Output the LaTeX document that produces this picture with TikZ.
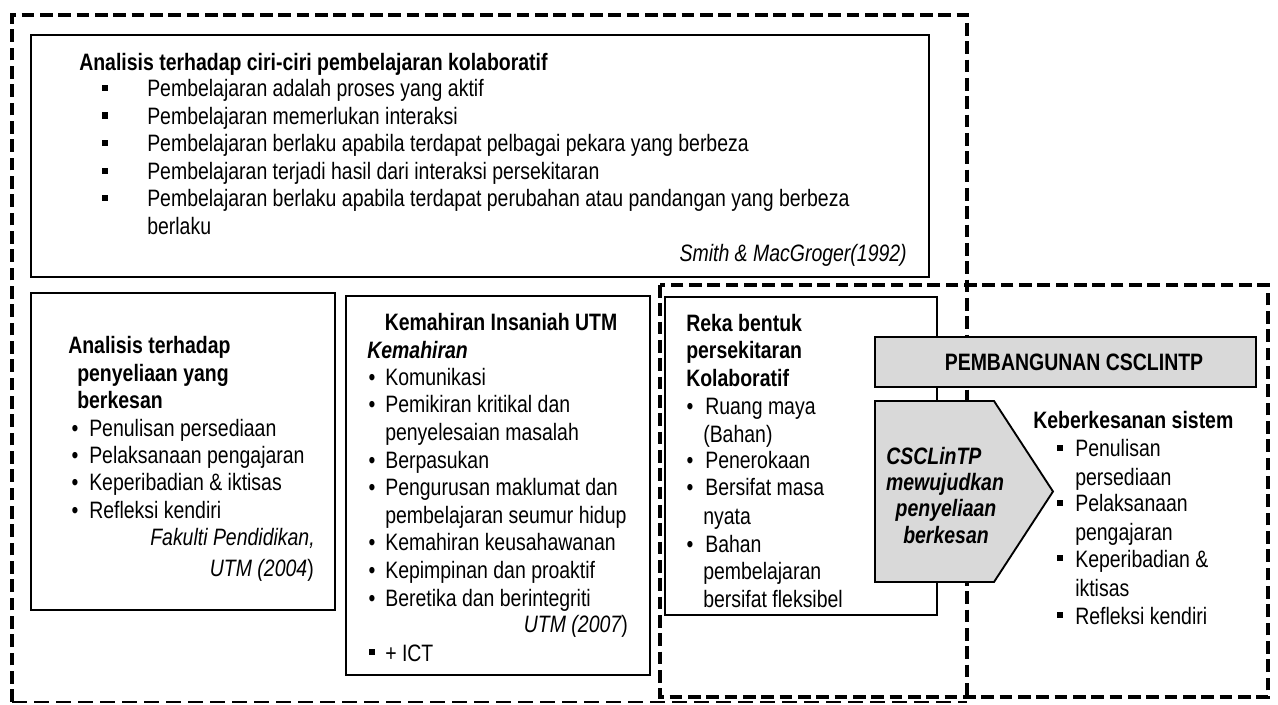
\documentclass[tikz,border=0pt]{standalone}
\usepackage{fontspec}
\setmainfont{Liberation Sans}[FakeStretch=0.82]
\newcommand{\fsz}{\fontsize{17.8}{21}\selectfont}
\tikzset{
  thickdash/.style={line width=2.6pt, dash pattern=on 9.5pt off 4.25pt},
  thindash/.style={line width=1.2pt, dash pattern=on 11pt off 5.5pt},
  solidbox/.style={line width=1.1pt},
  graybox/.style={line width=1.4pt, fill=black!15, draw=black},
  tx/.style={anchor=base west, inner sep=0pt, font=\fsz, yshift=-2.25pt},
  txb/.style={anchor=base west, inner sep=0pt, font=\fsz\bfseries, yshift=-2.25pt},
  txbi/.style={anchor=base west, inner sep=0pt, font=\fsz\bfseries\itshape, yshift=-2.25pt},
  txbc/.style={anchor=base, inner sep=0pt, font=\fsz\bfseries, yshift=-2.25pt},
  txbic/.style={anchor=base, inner sep=0pt, font=\fsz\bfseries\itshape, yshift=-2.25pt},
  txir/.style={anchor=base east, inner sep=0pt, font=\fsz\itshape, yshift=-2.25pt},
  dot/.style={anchor=base, inner sep=0pt, font=\fsz, yshift=-2.25pt},
  sqa/.style={fill=black, inner sep=0pt, minimum size=4.8pt},
  sqb/.style={fill=black, inner sep=0pt, minimum size=4pt},
}
\begin{document}
\begin{tikzpicture}[x=0.75pt,y=-0.75pt]
\useasboundingbox (0,0) rectangle (1278,705);

% ---- dashed frames ----
\coordinate (oTL) at (12,15);
\coordinate (oTR) at (967,15);
\coordinate (oBRr) at (967,697);
\coordinate (oBL) at (12,702);
\coordinate (oBR) at (967,702);
\draw[thickdash] (oBL) -- (oTL) -- (oTR) -- (oBRr);
\draw[thindash] (oBL) -- (oBR);
\coordinate (rTL) at (660,285);
\coordinate (rBR) at (1268,697);
\draw[thickdash] (rTL) rectangle (rBR);

% ---- solid boxes ----
\coordinate (aTL) at (31,35);   \coordinate (aBR) at (929,277);
\coordinate (bTL) at (31,293);  \coordinate (bBR) at (335,610);
\coordinate (cTL) at (346,296); \coordinate (cBR) at (650,675);
\coordinate (dTL) at (665,297); \coordinate (dBR) at (937,615);
\draw[solidbox] (aTL) rectangle (aBR);
\draw[solidbox] (bTL) rectangle (bBR);
\draw[solidbox] (cTL) rectangle (cBR);
\draw[solidbox] (dTL) rectangle (dBR);

% ---- gray shapes ----
\coordinate (gTL) at (875,337); \coordinate (gBR) at (1256,387);
\draw[graybox] (gTL) rectangle (gBR);
\coordinate (p1) at (875,401); \coordinate (p2) at (994,401);
\coordinate (p3) at (1053,491.5); \coordinate (p4) at (994,582);
\coordinate (p5) at (875,582);
\draw[graybox] (p1) -- (p2) -- (p3) -- (p4) -- (p5) -- cycle;

% ---- top box text ----
\node[txb] (a0) at (79,68) {Analisis terhadap ciri-ciri pembelajaran kolaboratif};
\node[sqa] (as1) at (105,88) {};
\node[sqa] (as2) at (105,115.5) {};
\node[sqa] (as3) at (105,143) {};
\node[sqa] (as4) at (105,171) {};
\node[sqa] (as5) at (105,198) {};
\node[tx] (a1) at (147,94) {Pembelajaran adalah proses yang aktif};
\node[tx] (a2) at (147,121.5) {Pembelajaran memerlukan interaksi};
\node[tx] (a3) at (147,149) {Pembelajaran berlaku apabila terdapat pelbagai pekara yang berbeza};
\node[tx] (a4) at (147,177) {Pembelajaran terjadi hasil dari interaksi persekitaran};
\node[tx] (a5) at (147,204) {Pembelajaran berlaku apabila terdapat perubahan atau pandangan yang berbeza};
\node[tx] (a6) at (147,232) {berlaku};
\node[txir] (a7) at (907,259) {Smith \& MacGroger(1992)};

% ---- box 2 text ----
\node[txb] (b1) at (68,351) {Analisis terhadap};
\node[txb] (b2) at (77,379) {penyeliaan yang};
\node[txb] (b3) at (77,406) {berkesan};
\node[dot] (bd1) at (75,434) {•};
\node[dot] (bd2) at (75,461) {•};
\node[dot] (bd3) at (75,488) {•};
\node[dot] (bd4) at (75,516) {•};
\node[tx] (b4) at (89,434) {Penulisan persediaan};
\node[tx] (b5) at (89,461) {Pelaksanaan pengajaran};
\node[tx] (b6) at (89,488) {Keperibadian \& iktisas};
\node[tx] (b7) at (89,516) {Refleksi kendiri};
\node[txir] (b8) at (315,543) {Fakulti Pendidikan,};
\node[txir] (b9) at (314,573) {UTM (2004\upshape)};

% ---- box 3 text ----
\node[txbc] (c0) at (501,328) {Kemahiran Insaniah UTM};
\node[txbi] (c1) at (367,356) {Kemahiran};
\foreach \yy/\nm in {383/1,410/2,466/3,493/4,548/5,575/6,603/7}
  \node[dot] (cd\nm) at (372,\yy) {•};
\node[tx] (c2) at (385,383) {Komunikasi};
\node[tx] (c3) at (385,410) {Pemikiran kritikal dan};
\node[tx] (c4) at (385,438) {penyelesaian masalah};
\node[tx] (c5) at (385,466) {Berpasukan};
\node[tx] (c6) at (385,493) {Pengurusan maklumat dan};
\node[tx] (c7) at (385,521) {pembelajaran seumur hidup};
\node[tx] (c8) at (385,548) {Kemahiran keusahawanan};
\node[tx] (c9) at (385,575) {Kepimpinan dan proaktif};
\node[tx] (c10) at (385,603) {Beretika dan berintegriti};
\node[txir] (c11) at (628,629) {UTM (2007\upshape)};
\node[sqb] (cs) at (372,652) {};
\node[tx] (c12) at (385,658) {+ ICT};

% ---- box 4 text ----
\node[txb] (d1) at (686,329) {Reka bentuk};
\node[txb] (d2) at (686,356) {persekitaran};
\node[txb] (d3) at (686,384) {Kolaboratif};
\foreach \yy/\nm in {412/1,466/2,493/3,549/4}
  \node[dot] (dd\nm) at (690,\yy) {•};
\node[tx] (d4) at (705,412) {Ruang maya};
\node[tx] (d5) at (703,440) {(Bahan)};
\node[tx] (d6) at (705,466) {Penerokaan};
\node[tx] (d7) at (705,493) {Bersifat masa};
\node[tx] (d8) at (703,522) {nyata};
\node[tx] (d9) at (705,549) {Bahan};
\node[tx] (d10) at (703,577) {pembelajaran};
\node[tx] (d11) at (703,604) {bersifat fleksibel};

% ---- gray shapes text ----
\node[txbc] (g0) at (1074,368) {PEMBANGUNAN CSCLINTP};
\node[txbi] (e1) at (886,462) {CSCLinTP};
\node[txbic] (e2) at (945,488) {mewujudkan};
\node[txbic] (e3) at (946,514) {penyeliaan};
\node[txbic] (e4) at (946,541) {berkesan};

% ---- right text ----
\node[txb] (f0) at (1033,426) {Keberkesanan sistem};
\foreach \yy/\nm in {448/1,503/2,558/3,615/4}
  \node[sqb] (fs\nm) at (1060,\yy) {};
\node[tx] (f1) at (1075,454) {Penulisan};
\node[tx] (f2) at (1075,483) {persediaan};
\node[tx] (f3) at (1075,509) {Pelaksanaan};
\node[tx] (f4) at (1075,538) {pengajaran};
\node[tx] (f5) at (1075,564) {Keperibadian \&};
\node[tx] (f6) at (1075,593) {iktisas};
\node[tx] (f7) at (1075,621) {Refleksi kendiri};
\end{tikzpicture}
\end{document}
